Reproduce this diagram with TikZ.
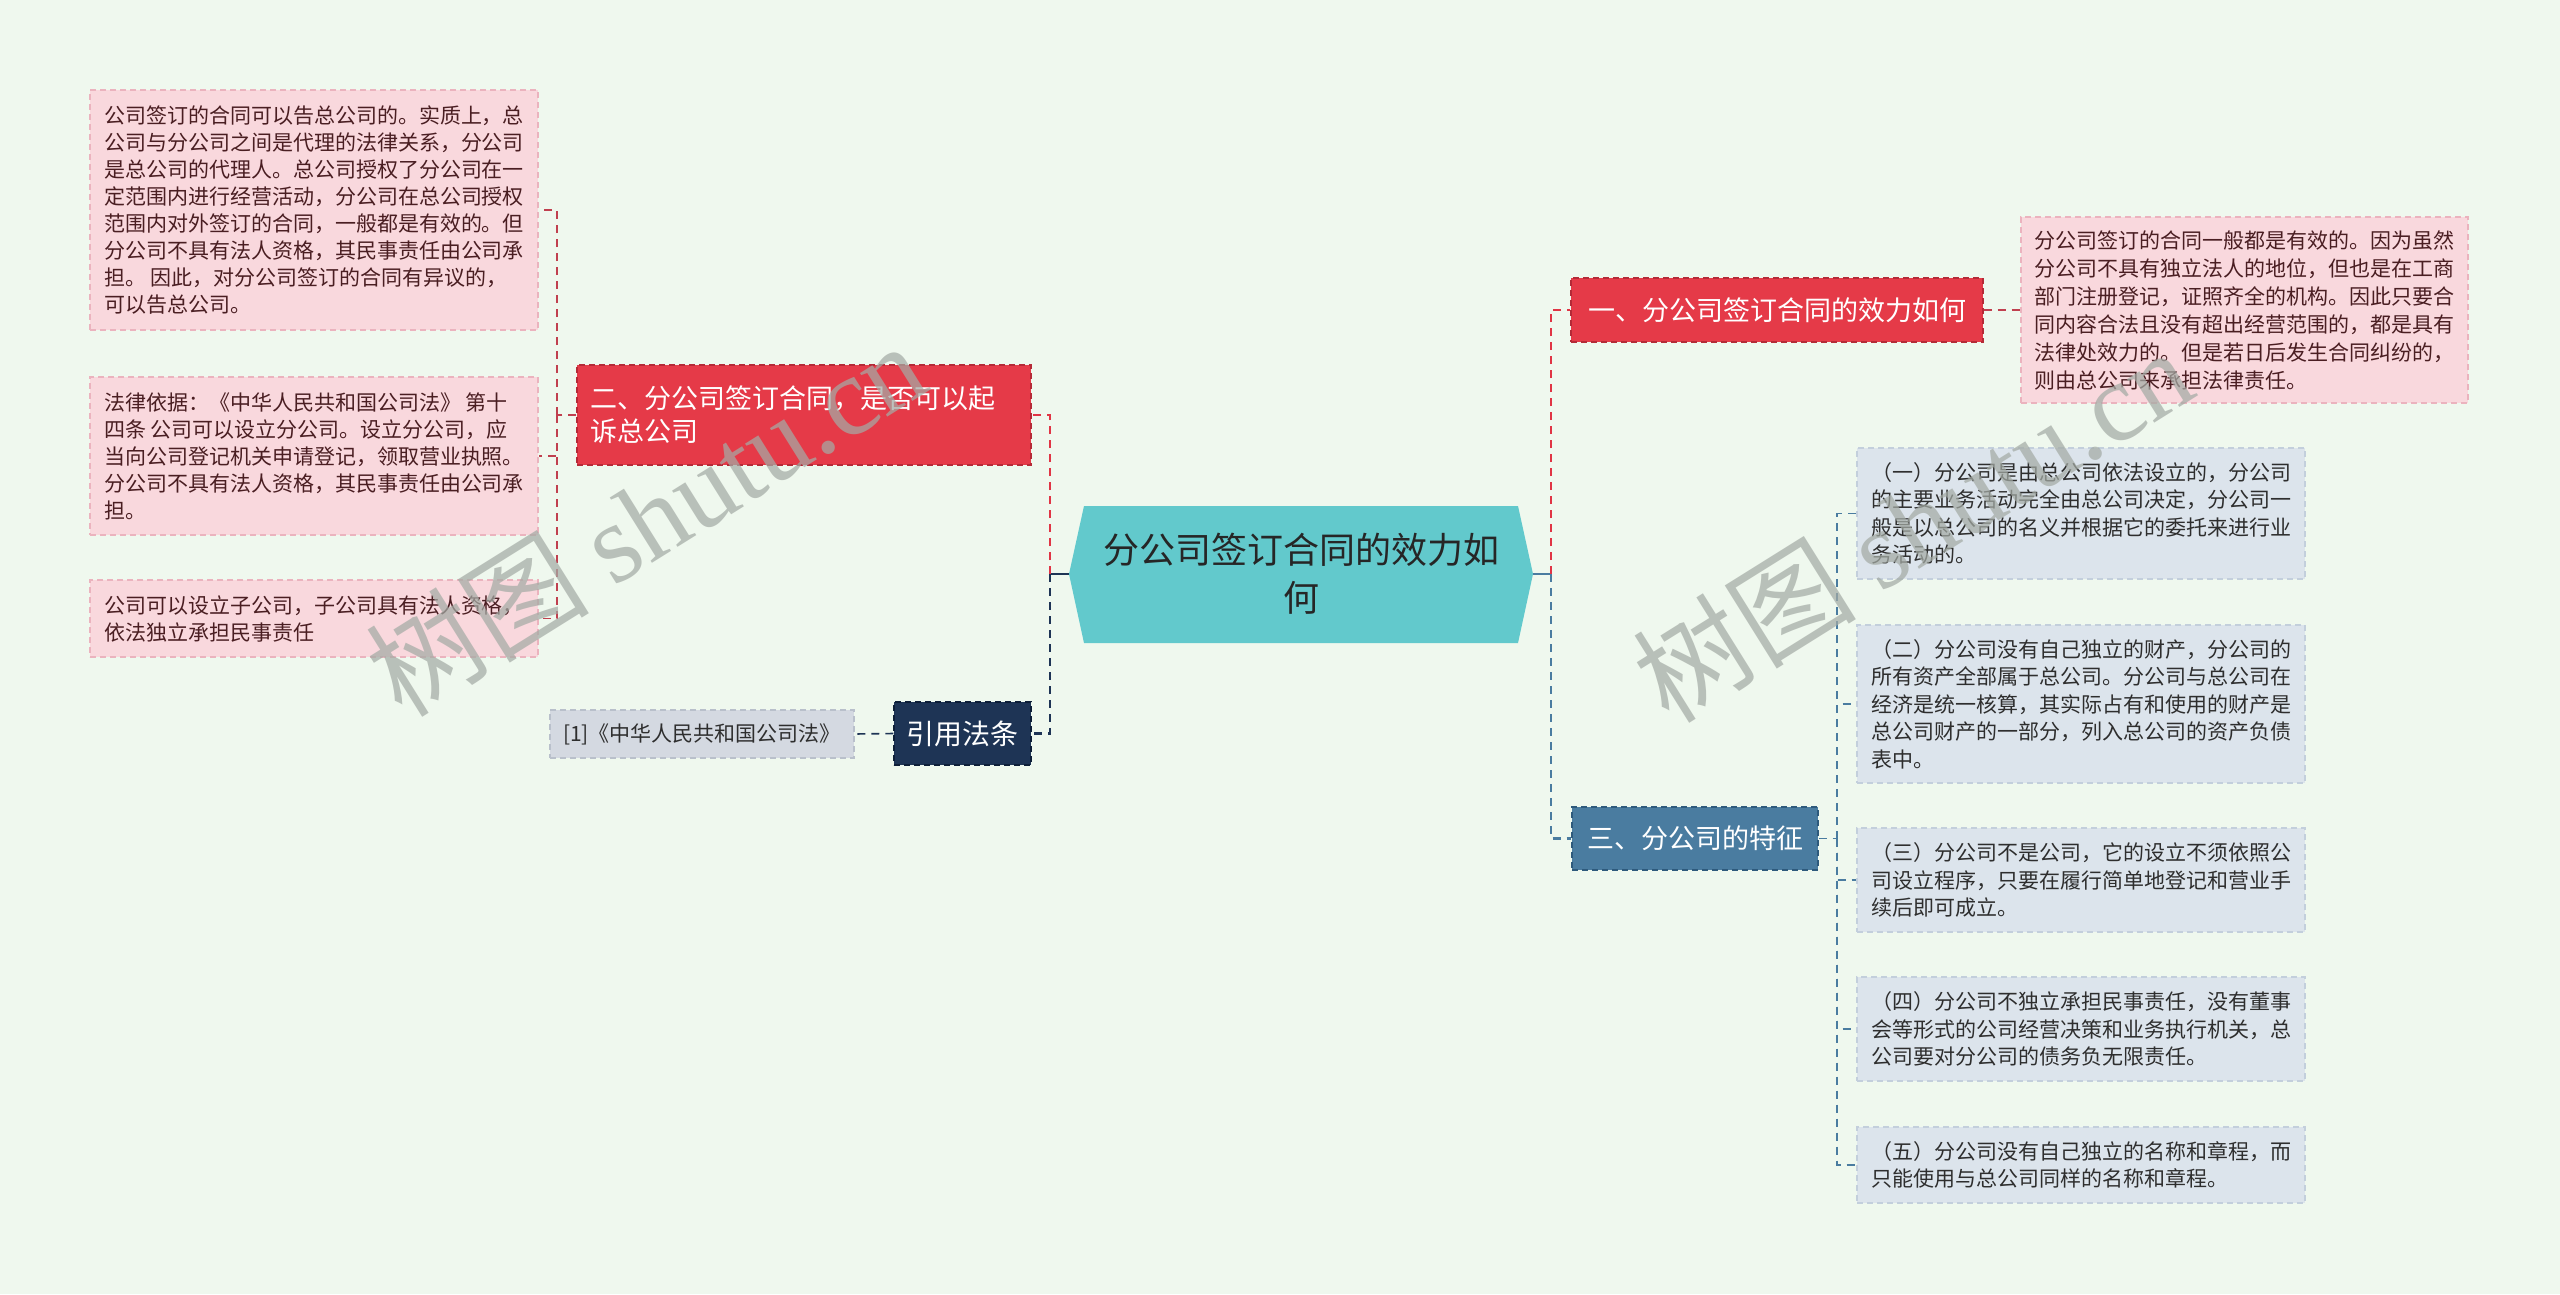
\documentclass[tikz,border=0pt]{standalone}
\usepackage{fontspec}
\setmainfont{Noto Sans CJK SC}
\newfontfamily\wmlatin{Liberation Serif}
\usetikzlibrary{calc}
\definecolor{bg}{HTML}{EFF8EE}
\definecolor{redfill}{HTML}{E53A48}
\definecolor{redborder}{HTML}{B52A37}
\definecolor{pinkfill}{HTML}{F9D8DD}
\definecolor{pinkborder}{HTML}{EBB3BE}
\definecolor{pinktext}{HTML}{4A1E22}
\definecolor{grayfill}{HTML}{DCE4EC}
\definecolor{grayborder}{HTML}{C3CFDC}
\definecolor{graytext}{HTML}{2E2E2E}
\definecolor{steelfill}{HTML}{4A7CA0}
\definecolor{steelborder}{HTML}{2E5A7C}
\definecolor{navyfill}{HTML}{1E3455}
\definecolor{navyborder}{HTML}{0E1F38}
\definecolor{reffill}{HTML}{D4D9E1}
\definecolor{refborder}{HTML}{B9C0CB}
\definecolor{tealfill}{HTML}{62C9CC}
\definecolor{redline}{HTML}{E03545}
\definecolor{pinkline}{HTML}{C0404F}
\definecolor{wmgray}{HTML}{A4ABA5}
\tikzset{
  dashborder/.style={dash pattern=on 6pt off 4pt, line width=1.2pt},
  pinkbox/.style={draw=pinkborder, dashborder, fill=pinkfill, text=pinktext, align=left,
    inner sep=0pt, minimum width=448pt, font=\fontsize{21}{27}\selectfont},
  graybox/.style={draw=grayborder, dashborder, fill=grayfill, text=graytext, align=left,
    inner sep=0pt, minimum width=448pt, font=\fontsize{21}{27.5}\selectfont},
  redtopic/.style={draw=redborder, dashborder, fill=redfill, text=white, inner sep=0pt,
    font=\fontsize{27}{33}\selectfont},
  steeltopic/.style={draw=steelborder, dashborder, fill=steelfill, text=white, inner sep=0pt,
    font=\fontsize{27}{33}\selectfont},
  navytopic/.style={draw=navyborder, dashborder, fill=navyfill, text=white, inner sep=0pt,
    font=\fontsize{28}{33}\selectfont},
  refbox/.style={draw=refborder, dashborder, fill=reffill, text=graytext, inner sep=0pt,
    font=\fontsize{21}{24}\selectfont},
  mainline/.style={line width=2.6pt, dash pattern=on 8pt off 6pt},
  thinline/.style={line width=1.6pt, dash pattern=on 8pt off 6pt},
  wm/.style={text=wmgray, text opacity=0.72, font=\fontsize{112}{112}\selectfont, inner sep=0pt}
}
\begin{document}
\begin{tikzpicture}[x=1pt, y=-1pt]
\useasboundingbox (0,0) rectangle (2560,1294);
\fill[bg] (0,0) rectangle (2560,1294);

% central hexagon
\coordinate (hexL) at (1069,574);
\coordinate (hexR) at (1533,574);
\fill[tealfill] (hexL) -- (1084,506) -- (1518,506) -- (hexR) -- (1518,643) -- (1084,643) -- cycle;
\node[align=center, text=black!85, font=\fontsize{36}{48}\selectfont] (root) at (1301,574)
  {分公司签订合同的效力如\\何};

% left branch
\node[redtopic, minimum width=454pt, minimum height=100pt, text width=428pt, align=left,
  inner xsep=13pt] (n2) at (804,415)
  {二、分公司签订合同，是否可以起\\诉总公司};
\node[navytopic, minimum width=137pt, minimum height=63pt] (law) at (962.5,733.5) {引用法条};
\node[refbox, minimum width=304pt, minimum height=48pt] (ref) at (702,734)
  {[1]《中华人民共和国公司法》};

\node[pinkbox, minimum height=240pt] (b1) at (314,210)
  {公司签订的合同可以告总公司的。实质上，总\\
   公司与分公司之间是代理的法律关系，分公司\\
   是总公司的代理人。总公司授权了分公司在一\\
   定范围内进行经营活动，分公司在总公司授权\\
   范围内对外签订的合同，一般都是有效的。但\\
   分公司不具有法人资格，其民事责任由公司承\\
   担。 因此，对分公司签订的合同有异议的，\\
   可以告总公司。};
\node[pinkbox, minimum height=158pt] (b2) at (314,456)
  {法律依据：《中华人民共和国公司法》 第十\\
   四条 公司可以设立分公司。设立分公司，应\\
   当向公司登记机关申请登记，领取营业执照。\\
   分公司不具有法人资格，其民事责任由公司承\\
   担。};
\node[pinkbox, minimum height=77pt] (b3) at (314,618.5)
  {公司可以设立子公司，子公司具有法人资格，\\
   依法独立承担民事责任};

% right branch
\node[redtopic, minimum width=412pt, minimum height=64pt] (n1) at (1777,310)
  {一、分公司签订合同的效力如何};
\node[pinkbox, minimum width=447pt, minimum height=186pt, font=\fontsize{21}{28}\selectfont] (rp) at (2244.5,310)
  {分公司签订的合同一般都是有效的。因为虽然\\
   分公司不具有独立法人的地位，但也是在工商\\
   部门注册登记，证照齐全的机构。因此只要合\\
   同内容合法且没有超出经营范围的，都是具有\\
   法律处效力的。但是若日后发生合同纠纷的，\\
   则由总公司来承担法律责任。};
\node[steeltopic, minimum width=246pt, minimum height=63pt] (n3) at (1695,838.5)
  {三、分公司的特征};

\node[graybox, minimum height=131pt] (g1) at (2081,513.5)
  {（一）分公司是由总公司依法设立的，分公司\\
   的主要业务活动完全由总公司决定，分公司一\\
   般是以总公司的名义并根据它的委托来进行业\\
   务活动的。};
\node[graybox, minimum height=158pt] (g2) at (2081,704)
  {（二）分公司没有自己独立的财产，分公司的\\
   所有资产全部属于总公司。分公司与总公司在\\
   经济是统一核算，其实际占有和使用的财产是\\
   总公司财产的一部分，列入总公司的资产负债\\
   表中。};
\node[graybox, minimum height=104pt] (g3) at (2081,880)
  {（三）分公司不是公司，它的设立不须依照公\\
   司设立程序，只要在履行简单地登记和营业手\\
   续后即可成立。};
\node[graybox, minimum height=104pt] (g4) at (2081,1029)
  {（四）分公司不独立承担民事责任，没有董事\\
   会等形式的公司经营决策和业务执行机关，总\\
   公司要对分公司的债务负无限责任。};
\node[graybox, minimum height=76pt] (g5) at (2081,1165)
  {（五）分公司没有自己独立的名称和章程，而\\
   只能使用与总公司同样的名称和章程。};

% connectors
\coordinate (jl) at (1050,574);
\coordinate (jl2) at (557,415);
\coordinate (jr) at (1551,574);
\coordinate (jr3) at (1837,838.5);

\draw[navyfill, line width=2.6pt] (hexL) -- (jl);
\draw[redline, mainline] (jl) |- (n2.east);
\draw[navyfill, mainline] (jl) |- (law.east);
\draw[navyfill, thinline] (law.west) -- (ref.east);
\draw[pinkline, thinline] (n2.west) -- (jl2);
\draw[pinkline, thinline] (jl2) |- (b1.east);
\draw[pinkline, thinline] (jl2) |- (b2.east);
\draw[pinkline, thinline] (jl2) |- (b3.east);

\draw[steelfill, line width=2.6pt] (hexR) -- (jr);
\draw[redline, mainline] (jr) |- (n1.west);
\draw[steelfill, mainline] (jr) |- (n3.west);
\draw[pinkline, thinline] (n1.east) -- (rp.west);
\draw[steelfill, thinline] (n3.east) -- (jr3);
\draw[steelfill, thinline] (jr3) |- (g1.west);
\draw[steelfill, thinline] (jr3) |- (g2.west);
\draw[steelfill, thinline] (jr3) |- (g3.west);
\draw[steelfill, thinline] (jr3) |- (g4.west);
\draw[steelfill, thinline] (jr3) |- (g5.west);

% watermarks
\node[wm, rotate=32] (wm1) at (645,518) {树图 {\wmlatin shutu.cn}};
\node[wm, rotate=32] (wm2) at (1912,524) {树图 {\wmlatin shutu.cn}};
\end{tikzpicture}
\end{document}
